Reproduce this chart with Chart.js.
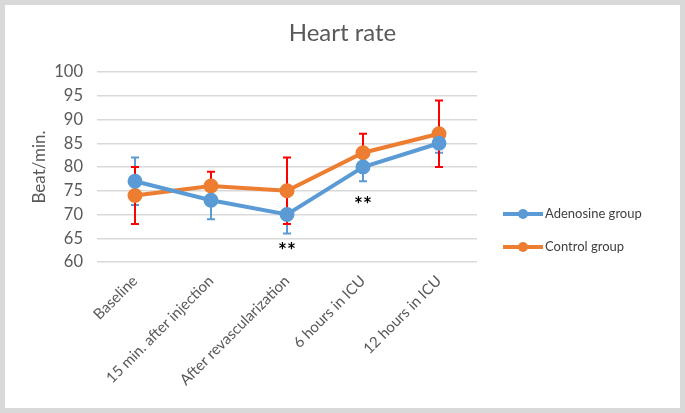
<!DOCTYPE html>
<html>
<head>
<meta charset="utf-8">
<script src="https://cdn.jsdelivr.net/npm/chart.js@4"></script>
<style>
    html, body { margin: 0; padding: 0; background: #fff; }
    #frame {
        width: 685px; height: 413px; box-sizing: border-box;
        border: 5px solid #d9d9d9; background: #fff;
    }
    #wrap { position: relative; width: 675px; height: 403px; }
</style>
</head>
<body>
<div id="frame"><div id="wrap"><canvas id="hrChart"></canvas></div></div>
<script>
// Data
const categories = ['Baseline', '15 min. after injection', 'After revascularization', '6 hours in ICU', '12 hours in ICU'];
const adenosineMean = [77, 73, 70, 80, 85];
const adenosineErr = [5, 4, 4, 3, 2];
const controlMean = [74, 76, 75, 83, 87];
const controlErr = [6, 3, 7, 4, 7];
// significance marks: category index and the value where "**" sits
const starIndex = [2, 3];
const starValue = [62.8, 72.6];

const BLUE = '#5b9bd5';
const ORANGE = '#ed7d31';
const FONT = 'Lato, "Open Sans", sans-serif';

// error bars behind the lines; title, stars and legend on top
const errorBars = {
    id: 'errorBars',
    beforeDatasetsDraw(chart) {
        const { ctx, scales: { x, y } } = chart;
        const sets = [
            { mean: adenosineMean, err: adenosineErr, color: BLUE },
            { mean: controlMean, err: controlErr, color: '#ff0000' }
        ];
        ctx.save();
        ctx.lineWidth = 2;
        sets.forEach(s => {
            ctx.strokeStyle = s.color;
            s.mean.forEach((m, i) => {
                const px = x.getPixelForValue(i);
                const top = y.getPixelForValue(m + s.err[i]);
                const bot = y.getPixelForValue(m - s.err[i]);
                ctx.beginPath();
                ctx.moveTo(px, top); ctx.lineTo(px, bot);
                ctx.moveTo(px - 4, top); ctx.lineTo(px + 4, top);
                ctx.moveTo(px - 4, bot); ctx.lineTo(px + 4, bot);
                ctx.stroke();
            });
        });
        ctx.restore();
    },
    afterDraw(chart) {
        const { ctx, scales: { x, y }, chartArea } = chart;
        ctx.save();
        // title centred on the whole canvas
        ctx.fillStyle = '#595959';
        ctx.font = '24px ' + FONT;
        ctx.textAlign = 'center';
        ctx.textBaseline = 'middle';
        ctx.fillText('Heart rate', chart.width / 2, 28);

        ctx.fillStyle = '#000';
        ctx.font = 'bold 21px ' + FONT;
        starIndex.forEach((idx, k) => {
            ctx.fillText('**', x.getPixelForValue(idx), y.getPixelForValue(starValue[k]) + 3);
        });
        const items = [
            { label: 'Adenosine group', color: BLUE },
            { label: 'Control group', color: ORANGE }
        ];
        const lx = chartArea.right + 26;
        items.forEach((it, k) => {
            const ly = 209 + k * 33;
            ctx.strokeStyle = it.color;
            ctx.fillStyle = it.color;
            ctx.lineWidth = 4;
            ctx.beginPath();
            ctx.moveTo(lx, ly); ctx.lineTo(lx + 40, ly);
            ctx.stroke();
            ctx.beginPath();
            ctx.arc(lx + 20, ly, 5, 0, Math.PI * 2);
            ctx.fill();
            ctx.fillStyle = '#404040';
            ctx.font = '13px ' + FONT;
            ctx.textAlign = 'left';
            ctx.fillText(it.label, lx + 42, ly);
        });
        ctx.restore();
    }
};

const config = {
    type: 'line',
    data: {
        labels: categories,
        datasets: [
            {
                label: 'Adenosine group',
                data: adenosineMean,
                borderColor: BLUE,
                backgroundColor: BLUE,
                borderWidth: 4,
                pointRadius: 5.5,
                pointHoverRadius: 5.5,
                tension: 0
            },
            {
                label: 'Control group',
                data: controlMean,
                borderColor: ORANGE,
                backgroundColor: ORANGE,
                borderWidth: 4,
                pointRadius: 5.5,
                pointHoverRadius: 5.5,
                tension: 0
            }
        ]
    },
    options: {
        responsive: true,
        maintainAspectRatio: false,
        animation: false,
        layout: { padding: { left: 22, right: 203, top: 67, bottom: 0 } },
        plugins: {
            legend: { display: false },
            tooltip: { enabled: false },
            title: { display: false }
        },
        scales: {
            x: {
                offset: true,
                grid: { display: false, drawTicks: false, offset: true },
                border: { display: false },
                ticks: {
                    color: '#595959',
                    font: { family: FONT, size: 15 },
                    minRotation: 45,
                    maxRotation: 45,
                    padding: 10,
                    autoSkip: false
                },
                afterFit: s => { s.height = 146; }
            },
            y: {
                min: 60,
                max: 100,
                ticks: {
                    stepSize: 5,
                    color: '#595959',
                    font: { family: FONT, size: 16.5 },
                    padding: 14
                },
                grid: { color: '#d9d9d9', lineWidth: 1.5, drawTicks: false },
                border: { display: false },
                title: {
                    display: true,
                    text: 'Beat/min.',
                    color: '#595959',
                    font: { family: FONT, size: 17 },
                    padding: { top: 2, bottom: 2 }
                },
                afterFit: s => { s.width = 70; }
            }
        }
    },
    plugins: [errorBars]
};

new Chart(document.getElementById('hrChart'), config);
</script>
</body>
</html>
